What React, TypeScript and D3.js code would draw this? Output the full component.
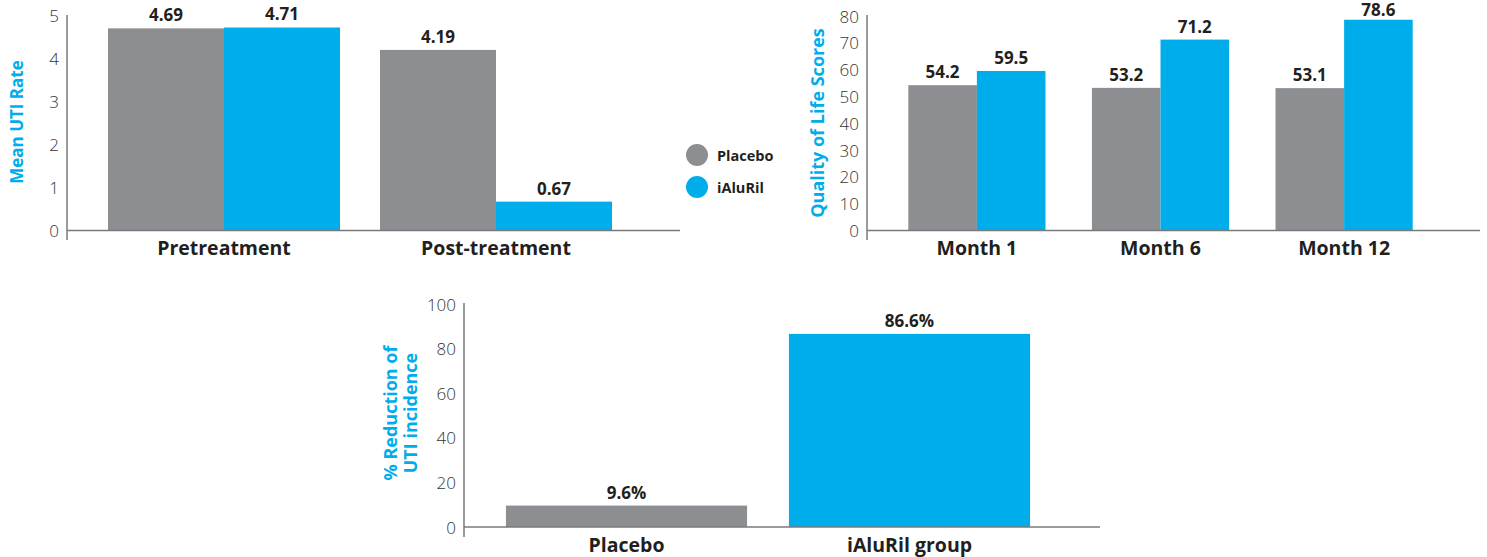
import * as d3 from "d3";

const GREY = "#8d8e91";
const BLUE = "#00adeb";
const INK = "#231f20";
const AXIS = "#7a7a7a";
const FONT = "'Open Sans', 'Noto Sans', sans-serif";

// top-left: mean UTI rate
const utiCategories = ["Pretreatment", "Post-treatment"];
const utiPlacebo = [4.69, 4.19];
const utiIaluril = [4.71, 0.67];
const utiTicks = [0, 1, 2, 3, 4, 5];

// top-right: quality of life
const qolCategories = ["Month 1", "Month 6", "Month 12"];
const qolPlacebo = [54.2, 53.2, 53.1];
const qolIaluril = [59.5, 71.2, 78.6];
const qolTicks = [0, 10, 20, 30, 40, 50, 60, 70, 80];

// bottom: % reduction
const redCategories = ["Placebo", "iAluRil group"];
const redValues = [9.6, 86.6];
const redTicks = [0, 20, 40, 60, 80, 100];

const seriesNames = ["Placebo", "iAluRil"];
const seriesColors = [GREY, BLUE];

type PanelProps = {
  axisX: number;
  axisTop: number;
  axisBottom: number;
  baseY: number;
  baseEnd: number;
  yMax: number;
  yTop: number;
  bandRange: [number, number];
  padIn: number;
  padOut: number;
  categories: string[];
  series: number[][]; // one array per series
  color: (si: number, ci: number) => string;
  ticks: number[];
  fmt: (v: number) => string;
  title: string[];
  titleX: number;
  titleY: number;
  titleSize: number;
};

function Panel(p: PanelProps) {
  const y = d3.scaleLinear().domain([0, p.yMax]).range([p.baseY, p.yTop]);
  const x0 = d3
    .scaleBand()
    .domain(p.categories)
    .range(p.bandRange)
    .paddingInner(p.padIn)
    .paddingOuter(p.padOut);
  const keys = p.series.map((_, i) => String(i));
  const x1 = d3.scaleBand().domain(keys).range([0, x0.bandwidth()]);

  return (
    <g>
      {/* bars */}
      {p.categories.map((c, ci) => (
        <g key={c} transform={`translate(${x0(c)},0)`}>
          {p.series.map((vals, si) => {
            const v = vals[ci];
            const bx = x1(String(si))!;
            return (
              <g key={si}>
                <rect
                  x={bx}
                  y={y(v)}
                  width={x1.bandwidth()}
                  height={p.baseY - y(v)}
                  fill={p.color(si, ci)}
                />
                <text
                  x={bx + x1.bandwidth() / 2}
                  y={Math.max(y(v) - 7, 16)}
                  textAnchor="middle"
                  fontSize={17}
                  fontWeight={700}
                  fill={INK}
                >
                  {p.fmt(v)}
                </text>
              </g>
            );
          })}
          <text
            x={x0.bandwidth() / 2}
            y={p.baseY + 17}
            dominantBaseline="central"
            textAnchor="middle"
            fontSize={19.5}
            fontWeight={700}
            fill={INK}
          >
            {c}
          </text>
        </g>
      ))}

      {/* axes */}
      <line x1={p.axisX} x2={p.axisX} y1={p.axisTop} y2={p.axisBottom} stroke={AXIS} strokeWidth={1.5} />
      <line x1={p.axisX} x2={p.baseEnd} y1={p.baseY} y2={p.baseY} stroke={AXIS} strokeWidth={1.5} />
      {p.ticks.map((t) => (
        <text
          key={t}
          x={p.axisX - 8}
          y={y(t)}
          dominantBaseline="central"
          textAnchor="end"
          fontSize={17}
          fontWeight={300}
          fill="#333"
        >
          {t}
        </text>
      ))}

      {/* y title */}
      <text
        transform={`translate(${p.titleX},${p.titleY}) rotate(-90)`}
        textAnchor="middle"
        fontSize={p.titleSize}
        fontWeight={700}
        fill={BLUE}
      >
        {p.title.map((line, i) => (
          <tspan key={i} x={0} dy={i === 0 ? `${-(p.title.length - 1) * 0.55 + 0.35}em` : "1.1em"}>
            {line}
          </tspan>
        ))}
      </text>
    </g>
  );
}

export default function App() {
  return (
    <div style={{ position: "absolute", left: 0, top: 0 }}>
      <svg width={1487} height={557} style={{ display: "block", fontFamily: FONT }}>
        <rect width={1487} height={557} fill="#fff" />
        <Panel
          axisX={67}
          axisTop={15}
          axisBottom={240}
          baseY={230.5}
          baseEnd={680}
          yMax={5}
          yTop={15}
          bandRange={[88, 632]}
          padIn={0.147}
          padOut={0.0735}
          categories={utiCategories}
          series={[utiPlacebo, utiIaluril]}
          color={(si) => seriesColors[si]}
          ticks={utiTicks}
          fmt={(v) => d3.format(".2f")(v)}
          title={["Mean UTI Rate"]}
          titleX={17}
          titleY={122}
          titleSize={17}
        />

        {/* legend */}
        {seriesNames.map((s, i) => (
          <g key={s} transform={`translate(697,${155 + i * 32})`}>
            <circle r={11} fill={seriesColors[i]} />
            <text x={20} dominantBaseline="central" fontSize={14.5} fontWeight={700} fill={INK}>
              {s}
            </text>
          </g>
        ))}

        <Panel
          axisX={867}
          axisTop={15}
          axisBottom={240}
          baseY={230.5}
          baseEnd={1480}
          yMax={80}
          yTop={16}
          bandRange={[885, 1436]}
          padIn={0.253}
          padOut={0.127}
          categories={qolCategories}
          series={[qolPlacebo, qolIaluril]}
          color={(si) => seriesColors[si]}
          ticks={qolTicks}
          fmt={(v) => d3.format(".1f")(v)}
          title={["Quality of Life Scores"]}
          titleX={818}
          titleY={123}
          titleSize={18}
        />

        <Panel
          axisX={464}
          axisTop={303}
          axisBottom={537}
          baseY={527}
          baseEnd={1100}
          yMax={100}
          yTop={304}
          bandRange={[485, 1051]}
          padIn={0.148}
          padOut={0.074}
          categories={redCategories}
          series={[redValues]}
          color={(_, ci) => seriesColors[ci]}
          ticks={redTicks}
          fmt={(v) => d3.format(".1f")(v) + "%"}
          title={["% Reduction of", "UTI incidence"]}
          titleX={401}
          titleY={413}
          titleSize={18}
        />
      </svg>
    </div>
  );
}
